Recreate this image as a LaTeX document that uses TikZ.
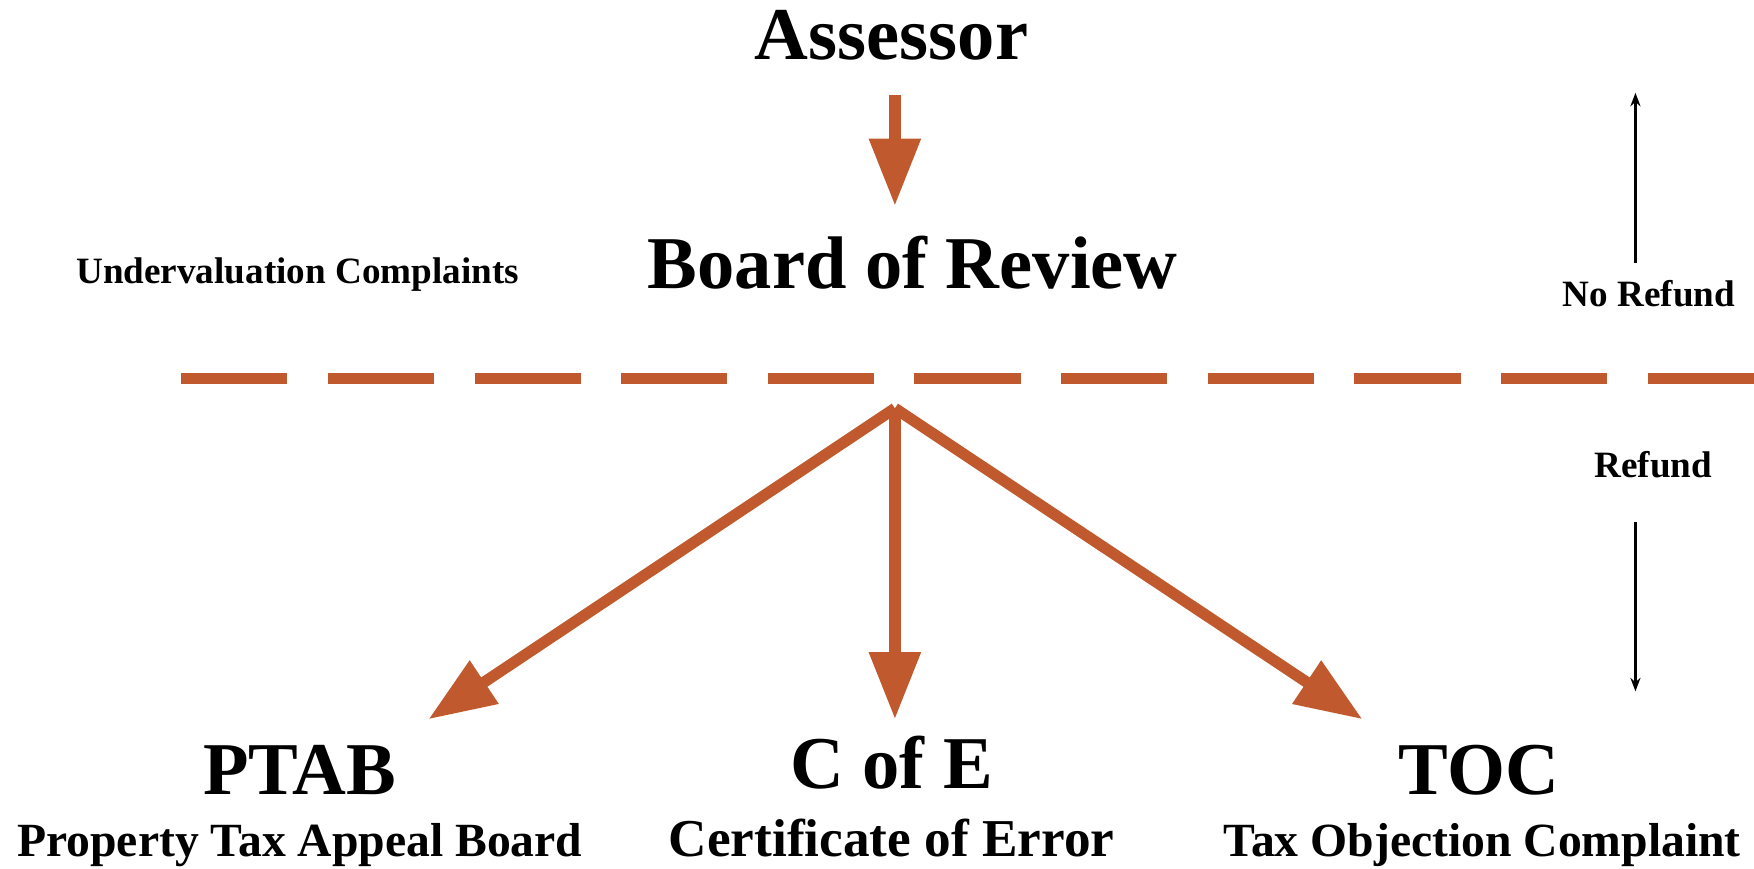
\documentclass[tikz,border=0pt]{standalone}
\usepackage{fontspec}
\setmainfont{Liberation Serif}
\usetikzlibrary{arrows.meta}
\definecolor{rust}{RGB}{192,90,46}
\tikzset{
  big/.style={font=\bfseries\fontsize{33.3}{38}\selectfont, anchor=base, inner sep=0pt},
  mid/.style={font=\bfseries\fontsize{21.3}{25}\selectfont, anchor=base, inner sep=0pt},
  midl/.style={font=\bfseries\fontsize{23.8}{28}\selectfont, anchor=base, inner sep=0pt},
  small/.style={font=\bfseries\fontsize{16.6}{20}\selectfont, anchor=base, inner sep=0pt},
  fatarrow/.style={draw=rust, line width=5pt, -{Triangle[length=30pt,width=22pt]}, fill=rust},
  thinarrow/.style={draw=black, line width=1.1pt, -{Stealth[length=6pt,width=4.5pt]}},
  divider/.style={draw=rust, line width=5pt, dash pattern=on 47.5pt off 18.05pt}
}
\begin{document}
\begin{tikzpicture}[x=0.5pt,y=-0.5pt]
\useasboundingbox (0,0) rectangle (1568,776);
% texts
\node[big] (assessor) at (797,53) {Assessor};
\node[big] (bor) at (816,258) {Board of Review};
\node[small] (under) at (266,253) {Undervaluation Complaints};
\node[small] (norefund) at (1474,274) {No Refund};
\node[small] (refund) at (1478,427) {Refund};
\node[big] (ptab) at (268,710) {PTAB};
\node[mid] (ptabl) at (268,766) {Property Tax Appeal Board};
\node[big] (coe) at (797,705) {C of E};
\node[midl] (coel) at (797,766) {Certificate of Error};
\node[big] (toc) at (1322,710) {TOC};
\node[mid] (tocl) at (1325,766) {Tax Objection Complaint};
% coordinates
\coordinate (a1) at (800,85);
\coordinate (a2) at (800,184);
\coordinate (apex) at (800,365);
\coordinate (tl) at (383,643);
\coordinate (tm) at (800,643);
\coordinate (tr) at (1218,643);
\coordinate (d1) at (162,338);
\coordinate (d2) at (1568,338);
\coordinate (u1) at (1462,235);
\coordinate (u2) at (1462,83);
\coordinate (w1) at (1462,467);
\coordinate (w2) at (1462,618);
% connectors
\draw[fatarrow] (a1) -- (a2);
\draw[divider] (d1) -- (d2);
\draw[fatarrow] (apex) -- (tl);
\draw[fatarrow] (apex) -- (tm);
\draw[fatarrow] (apex) -- (tr);
\draw[thinarrow] (u1) -- (u2);
\draw[thinarrow] (w1) -- (w2);
\end{tikzpicture}
\end{document}
